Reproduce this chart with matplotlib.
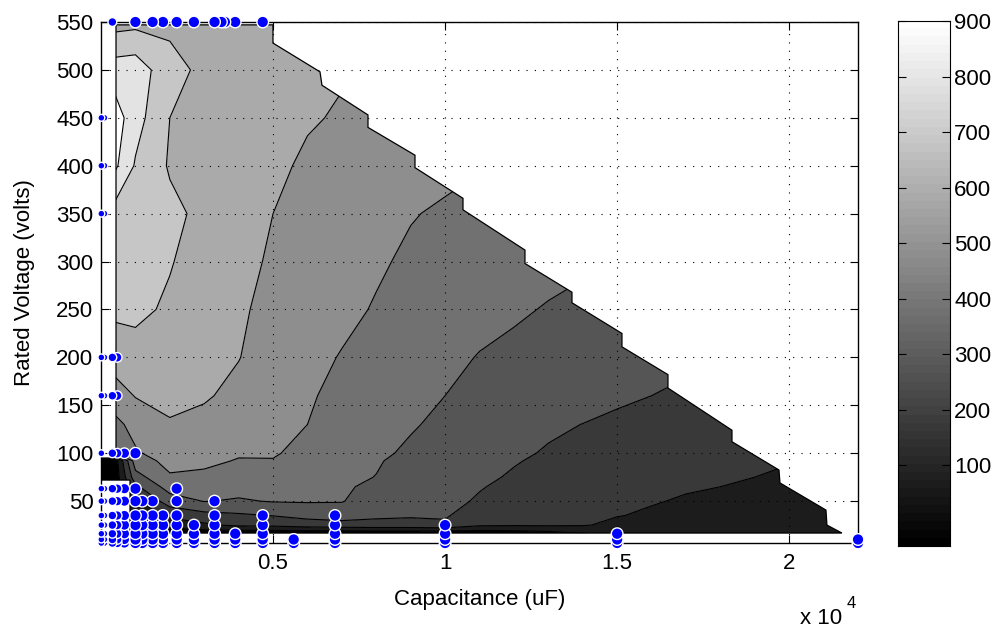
import numpy as np
import matplotlib
matplotlib.use('Agg')
import matplotlib.pyplot as plt
from matplotlib.patches import Polygon

plt.rcParams['font.family'] = ['Liberation Sans', 'DejaVu Sans']

# interpolated field (rows = voltage, columns = capacitance)
grid_cap = [0, 400, 1000, 2000, 3000, 4000, 5000, 6000, 7000, 8000, 9000, 10000,
            11000, 12000, 13000, 14000, 15000, 16000, 17000, 18000, 19000, 20000, 21000, 22000]
grid_volt = [550, 500, 450, 400, 350, 300, 250, 200, 160, 130, 100, 92, 75, 65, 50, 35, 25, 16]
z_rows = [
    [660, 660, 670, 680, 690, 680, 660, 640, 620, 600, 580, 560, 540, 520, 500, 480, 460, 440, 420, 400, 380, 360, 340, 320],
    [850, 850, 860, 730, 680, 670, 650, 625, 605, 590, 570, 550, 530, 510, 490, 470, 450, 430, 410, 390, 370, 350, 330, 310],
    [950, 950, 840, 700, 675, 651, 629, 606, 594, 580, 560, 540, 515, 500, 480, 460, 440, 420, 400, 380, 360, 340, 320, 300],
    [920, 920, 790, 690, 662, 638, 613, 590, 580, 567, 540, 522, 505, 490, 470, 450, 430, 410, 390, 370, 350, 330, 310, 290],
    [760, 760, 765, 725, 675, 640, 600, 575, 557, 540, 505, 488, 474, 465, 455, 440, 420, 400, 380, 360, 340, 320, 300, 280],
    [750, 750, 740, 705, 665, 629, 587, 561, 538, 512, 485, 471, 456, 438, 422, 410, 400, 390, 370, 350, 330, 310, 290, 270],
    [718, 718, 718, 688, 650, 614, 572, 545, 522, 493, 462, 451, 428, 410, 395, 384, 375, 365, 350, 335, 320, 300, 280, 260],
    [650, 650, 670, 670, 640, 603, 553, 526, 495, 468, 440, 421, 396, 383, 363, 357, 345, 333, 315, 305, 295, 285, 270, 250],
    [550, 550, 605, 625, 610, 575, 537, 510, 476, 449, 423, 400, 381, 363, 336, 330, 312, 300, 287, 272, 262, 252, 242, 232],
    [475, 475, 530, 592, 574, 540, 520, 500, 461, 434, 408, 381, 362, 341, 313, 299, 286, 276, 264, 253, 240, 230, 220, 210],
    [410, 410, 490, 540, 529, 508, 508, 474, 443, 416, 386, 362, 337, 313, 293, 283, 262, 251, 241, 231, 222, 211, 200, 190],
    [40, 40, 455, 528, 517, 495, 496, 458, 432, 408, 372, 355, 326, 305, 286, 277, 254, 243, 233, 224, 214, 203, 193, 183],
    [30, 30, 360, 490, 483, 458, 464, 437, 420, 398, 355, 341, 314, 292, 273, 265, 240, 228, 218, 210, 200, 190, 180, 170],
    [30, 30, 280, 445, 451, 434, 440, 425, 414, 378, 343, 334, 305, 280, 265, 258, 232, 218, 207, 200, 192, 183, 175, 165],
    [40, 40, 180, 350, 404, 390, 406, 408, 405, 347, 326, 323, 291, 262, 252, 245, 218, 205, 193, 186, 180, 172, 165, 155],
    [40, 40, 120, 225, 265, 285, 303, 330, 345, 316, 309, 310, 245, 226, 235, 225, 203, 190, 180, 173, 167, 160, 155, 150],
    [40, 40, 90, 130, 182, 220, 225, 250, 260, 270, 270, 285, 215, 210, 212, 207, 180, 170, 165, 160, 155, 150, 145, 140],
    [40, 40, 70, 40, 30, 20, 20, 20, 20, 20, 20, 20, 30, 40, 60, 95, 130, 140, 150, 150, 145, 140, 135, 130],
]

# outline of the region where the field is defined (stepped edge on the right)
hull_cap = [436, 4998, 4998, 6364, 6422, 7759, 7759, 9125, 9125, 10520, 10520, 12321, 12321,
            13687, 13687, 15140, 15140, 16477, 16477, 18337, 18337, 19703, 19732, 21068, 21097,
            21533, 843, 843, 0, 0, 436]
hull_volt = [547, 547, 528, 498, 484, 453, 440, 411, 398, 366, 354, 312, 298,
             268, 257, 225, 211, 182, 168, 124, 112, 82.5, 69, 40.7, 25,
             16.7, 16.7, 72, 72, 95, 95]

# catalogue points: capacitance column -> rated voltages present
point_caps = [10, 100, 330, 470, 680, 1000, 1200, 1500, 1800, 2200, 2700, 3300,
              3500, 3600, 3900, 4700, 5600, 6800, 10000, 15000, 22000]
point_volts = [
    [6.3, 10, 16, 25, 35, 50, 63, 100, 160, 200, 350, 400, 450],
    [6.3, 10, 16, 25, 35, 50, 63, 160, 200, 350, 400, 450],
    [6.3, 10, 16, 25, 35, 50, 63, 100, 160, 200, 550],
    [6.3, 10, 16, 25, 35, 50, 63, 100, 160, 200],
    [6.3, 10, 16, 25, 35, 50, 63, 100],
    [6.3, 10, 16, 25, 35, 50, 63, 100, 550],
    [6.3, 10, 16, 25, 35, 50],
    [6.3, 10, 16, 25, 35, 50, 550],
    [6.3, 10, 16, 25, 35, 550],
    [6.3, 10, 16, 25, 35, 50, 63, 550],
    [6.3, 10, 16, 25, 550],
    [6.3, 10, 16, 25, 35, 50, 550],
    [550],
    [550],
    [6.3, 10, 16, 550],
    [6.3, 10, 16, 25, 35, 550],
    [6.3, 10],
    [6.3, 10, 16, 25, 35],
    [6.3, 10, 16, 25],
    [6.3, 10, 16],
    [6.3, 10],
]

x_ticks = [5000, 10000, 15000, 20000]
x_labels = ['0.5', '1', '1.5', '2']
y_ticks = list(range(50, 551, 50))
cbar_ticks = list(range(100, 901, 100))

levels = np.arange(0, 1001, 100)
band_colors = [(k / 9, k / 9, k / 9) for k in range(10)]
FS = 16

fig = plt.figure(figsize=(10.02, 6.32), dpi=100)
ax = fig.add_axes([0.1008, 0.1408, 0.7555, 0.8244])

Z = np.array(z_rows, dtype=float)
cf = ax.contourf(grid_cap, grid_volt, Z, levels=levels, colors=band_colors, zorder=1)
cl = ax.contour(grid_cap, grid_volt, Z, levels=levels[1:-1], colors='k', linewidths=0.8, zorder=2)
hull = Polygon(np.column_stack([hull_cap, hull_volt]), closed=True, facecolor='none',
               edgecolor='k', linewidth=0.9, zorder=3)
ax.add_patch(hull)
cf.set_clip_path(hull)
cl.set_clip_path(hull)

# markers: larger capacitances drawn first, small ones shrink near the axis
pts = []
for c, vs in zip(point_caps, point_volts):
    for v in vs:
        pts.append((c, v))
pts.sort(key=lambda p: -p[0])
pc = np.array([p[0] for p in pts], dtype=float)
pv = np.array([p[1] for p in pts], dtype=float)
sizes = 70 * np.clip(np.sqrt(pc / 1000.0), 0.35, 1.0)
ax.scatter(pc, pv, s=sizes, c='blue', edgecolors='white', linewidths=1.0,
           clip_on=False, zorder=5)

ax.set_xlim(0, 22000)
ax.set_ylim(6.3, 550)
ax.set_xticks(x_ticks)
ax.set_xticklabels(x_labels)
ax.set_yticks(y_ticks)
ax.set_axisbelow(False)
ax.grid(True, color='k', linestyle=(0, (1, 6.5)), linewidth=0.8)
ax.tick_params(direction='in', top=True, right=True, length=6, labelsize=FS)
ax.tick_params(axis='x', pad=7)
ax.tick_params(axis='y', pad=5.5)
for s in ax.spines.values():
    s.set_linewidth(1.0)
ax.set_xlabel('Capacitance (uF)', fontsize=FS, labelpad=11)
ax.set_ylabel('Rated Voltage (volts)', fontsize=FS, labelpad=15)
fig.text(0.798, 0.012, 'x 10', fontsize=FS, va='baseline')
fig.text(0.845, 0.038, '4', fontsize=12, va='baseline')

# colour bar
cax = fig.add_axes([0.8962, 0.136, 0.052, 0.8307])
vmin, vmax = -45, 900
grad = np.linspace(vmin, vmax, 64).reshape(-1, 1)
cax.imshow(grad, aspect='auto', cmap='gray', origin='lower',
           extent=[0, 1, vmin, vmax], vmin=vmin, vmax=vmax)
cax.set_xticks([])
cax.set_yticks(cbar_ticks)
cax.yaxis.tick_right()
cax.tick_params(axis='y', direction='in', left=True, right=True, length=6, labelsize=FS, pad=3)

fig.savefig('out.png', dpi=100)
